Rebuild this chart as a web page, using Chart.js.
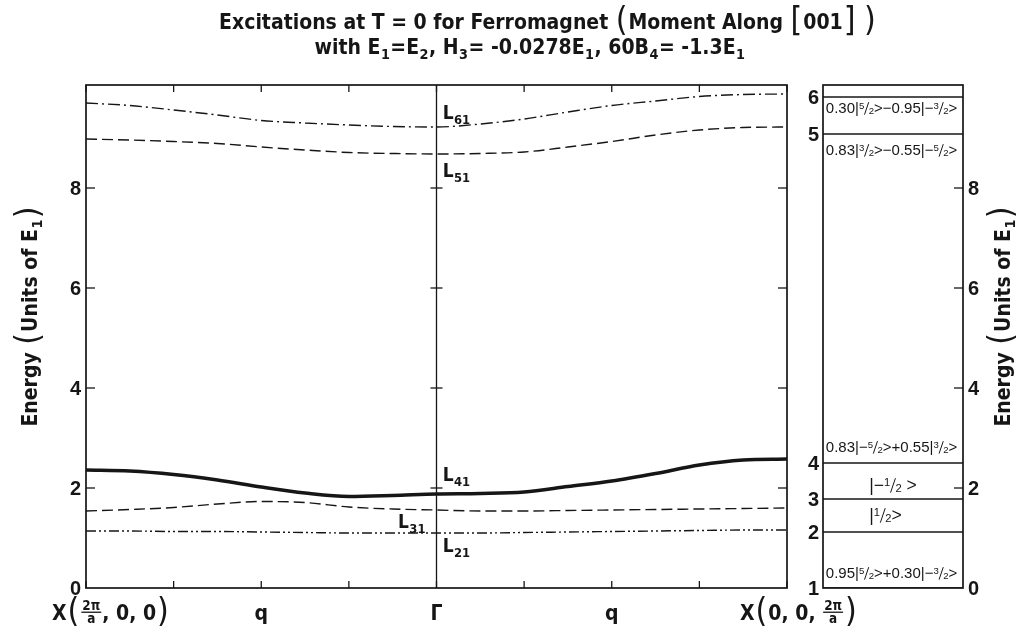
<!DOCTYPE html>
<html>
<head>
<meta charset="utf-8">
<script src="https://cdn.jsdelivr.net/npm/chart.js@4.4.1/dist/chart.umd.min.js"></script>
<style>
  body { margin: 0; background: #fff; }
  #wrap { position: relative; width: 1020px; height: 634px; }
  canvas { position: absolute; left: 0; top: 0; }
</style>
</head>
<body>
<div id="wrap">
  <canvas id="main" width="1020" height="634"></canvas>
  <canvas id="levels" width="1020" height="634"></canvas>
</div>
<script>
// wave-vector positions along X -> Γ -> X (Γ at 4)
const qPos = [0, 0.5, 1, 1.5, 2, 2.5, 3, 3.5, 4, 4.5, 5, 5.5, 6, 6.5, 7, 7.5, 8];
const xTicks = [0, 1, 2, 3, 4, 5, 6, 7, 8];
const yTicks = [0, 2, 4, 6, 8];
const yMax = 10.06;

// excitation branches (units of E1)
const L61 = [9.70, 9.65, 9.56, 9.46, 9.35, 9.30, 9.26, 9.23, 9.22, 9.28, 9.38, 9.52, 9.65, 9.74, 9.83, 9.87, 9.88];
const L51 = [8.98, 8.96, 8.93, 8.89, 8.82, 8.76, 8.71, 8.69, 8.68, 8.69, 8.72, 8.82, 8.93, 9.06, 9.16, 9.21, 9.22];
const L41 = [2.36, 2.34, 2.27, 2.16, 2.02, 1.90, 1.83, 1.85, 1.88, 1.89, 1.92, 2.03, 2.14, 2.29, 2.46, 2.56, 2.58];
const L31 = [1.54, 1.57, 1.61, 1.68, 1.73, 1.71, 1.62, 1.58, 1.56, 1.54, 1.54, 1.55, 1.56, 1.57, 1.58, 1.59, 1.60];
const L21 = [1.14, 1.14, 1.13, 1.13, 1.12, 1.11, 1.10, 1.10, 1.10, 1.10, 1.11, 1.12, 1.13, 1.14, 1.15, 1.16, 1.16];

// single-ion levels (right panel)
const levelNames = ['1', '2', '3', '4', '5', '6'];
const levelEnergies = [0, 1.12, 1.78, 2.5, 9.08, 9.82];

const INK = '#161616';
const NARROW = '"Liberation Sans Narrow", "DejaVu Sans Condensed", "Liberation Sans", sans-serif';
const PLAIN = '"Liberation Sans", Arial, sans-serif';

// rich text helpers (sub/superscripts, big brackets, fractions)
const sub = t => ({ k: 'sub', t });
const big = t => ({ k: 'big', t });
const sf = t => ({ k: 'sf', t });
const vf = t => ({ k: 'vf', t });

function fnt(o, scale, weight) {
  return `${weight || o.weight} ${Math.round(o.size * scale * 10) / 10}px ${o.family}`;
}

function segWidth(ctx, s, o) {
  if (typeof s === 'string') { ctx.font = fnt(o, 1); return ctx.measureText(s).width; }
  if (s.k === 'sub' || s.k === 'sup') { ctx.font = fnt(o, 0.68); return ctx.measureText(s.t).width + 1; }
  if (s.k === 'big') { ctx.font = fnt(o, 1.6, 'normal'); return ctx.measureText(s.t).width + 2; }
  const [n, d] = s.t.split('/');
  ctx.font = fnt(o, 0.64);
  const wn = ctx.measureText(n).width, wd = ctx.measureText(d).width;
  if (s.k === 'sf') return wn + wd + o.size * 0.3;
  return Math.max(wn, wd) + 4;
}

function drawRich(ctx, segs, x, y, o, align) {
  const total = segs.reduce((w, s) => w + segWidth(ctx, s, o), 0);
  let cx = align === 'center' ? x - total / 2 : align === 'right' ? x - total : x;
  ctx.textAlign = 'left';
  ctx.textBaseline = 'alphabetic';
  ctx.strokeStyle = INK;
  for (const s of segs) {
    const w = segWidth(ctx, s, o);
    if (typeof s === 'string') ctx.fillText(s, cx, y);
    else if (s.k === 'sub') ctx.fillText(s.t, cx + 0.5, y + o.size * 0.25);
    else if (s.k === 'sup') ctx.fillText(s.t, cx + 0.5, y - o.size * 0.42);
    else if (s.k === 'big') ctx.fillText(s.t, cx + 1, y + o.size * 0.1);
    else {
      const [n, d] = s.t.split('/');
      const wn = ctx.measureText(n).width;
      if (s.k === 'sf') {
        ctx.fillText(n, cx, y - o.size * 0.3);
        ctx.fillText(d, cx + wn + o.size * 0.3, y + o.size * 0.05);
        ctx.beginPath();
        ctx.lineWidth = 1;
        ctx.moveTo(cx + wn + o.size * 0.3, y - o.size * 0.75);
        ctx.lineTo(cx + wn + o.size * 0.02, y + o.size * 0.08);
        ctx.stroke();
      } else {
        ctx.textAlign = 'center';
        ctx.fillText(n, cx + w / 2, y - o.size * 0.46);
        ctx.fillText(d, cx + w / 2, y + o.size * 0.16);
        ctx.textAlign = 'left';
        ctx.beginPath();
        ctx.lineWidth = 1.3;
        ctx.moveTo(cx + 1, y - o.size * 0.37);
        ctx.lineTo(cx + w - 1, y - o.size * 0.37);
        ctx.stroke();
      }
    }
    cx += w;
  }
}

function seg(ctx, x1, y1, x2, y2) {
  ctx.beginPath(); ctx.moveTo(x1, y1); ctx.lineTo(x2, y2); ctx.stroke();
}

const titleFont = { size: 21, weight: 'bold', family: NARROW };
const axisFont = { size: 21, weight: 'bold', family: NARROW };
const numFont = { size: 20, weight: 'bold', family: PLAIN };
const lblFont = { size: 19, weight: 'bold', family: NARROW };
const stateFont = { size: 15, weight: 'normal', family: PLAIN };
const ketFont = { size: 17.5, weight: 'normal', family: PLAIN };

const title1 = ['Excitations at T = 0 for Ferromagnet ', big('('), 'Moment Along ', big('['), '001', big(']'), ' ', big(')')];
const title2 = ['with E', sub('1'), '=E', sub('2'), ', H', sub('3'), '= -0.0278E', sub('1'), ', 60B', sub('4'), '= -1.3E', sub('1')];
const energyLabel = ['Energy ', big('('), 'Units of E', sub('1'), big(')')];

// branch labels: [subscript, q, energy] anchors
const curveLabels = [['61', 4.07, 9.52], ['51', 4.07, 8.36], ['41', 4.07, 2.28], ['31', 3.56, 1.34], ['21', 4.07, 0.86]];

const stateLabels = [
  { e: 9.60, at: 0.02, font: stateFont, segs: ['0.30|', sf('5/2'), '>\u22120.95|\u2212', sf('3/2'), '>'] },
  { e: 8.76, at: 0.02, font: stateFont, segs: ['0.83|', sf('3/2'), '>\u22120.55|\u2212', sf('5/2'), '>'] },
  { e: 2.82, at: 0.02, font: stateFont, segs: ['0.83|\u2212', sf('5/2'), '>+0.55|', sf('3/2'), '>'] },
  { e: 2.06, at: 0.33, font: ketFont, segs: ['|\u2212', sf('1/2'), ' >'] },
  { e: 1.46, at: 0.33, font: ketFont, segs: ['|', sf('1/2'), '>'] },
  { e: 0.30, at: 0.02, font: stateFont, segs: ['0.95|', sf('5/2'), '>+0.30|\u2212', sf('3/2'), '>'] },
];

const branchStyles = [
  { data: L61, dash: [12, 4, 2, 4], width: 1.4 },
  { data: L51, dash: [11, 5], width: 1.4 },
  { data: L41, dash: [], width: 3.6 },
  { data: L31, dash: [11, 5], width: 1.4 },
  { data: L21, dash: [10, 3, 2, 3, 2, 3], width: 1.4 },
];

const mainDecor = {
  id: 'mainDecor',
  afterDraw(chart) {
    const { ctx, chartArea: a, scales: { x, y } } = chart;
    ctx.save();
    ctx.strokeStyle = INK;
    ctx.fillStyle = INK;
    ctx.lineWidth = 1.7;
    ctx.strokeRect(a.left, a.top, a.right - a.left, a.bottom - a.top);

    const gx = x.getPixelForValue(4);
    ctx.lineWidth = 1.3;
    seg(ctx, gx, a.top, gx, a.bottom);
    xTicks.forEach(v => {
      const px = x.getPixelForValue(v);
      seg(ctx, px, a.bottom, px, a.bottom - 7);
      seg(ctx, px, a.top, px, a.top + 7);
    });
    yTicks.forEach(v => {
      if (v === 0) return;
      const py = y.getPixelForValue(v);
      seg(ctx, a.left, py, a.left + 9, py);
      seg(ctx, a.right, py, a.right - 9, py);
      seg(ctx, gx - 6, py, gx + 6, py);
    });

    ctx.font = fnt(numFont, 1);
    ctx.textAlign = 'right';
    ctx.textBaseline = 'middle';
    yTicks.forEach(v => ctx.fillText(String(v), a.left - 5, y.getPixelForValue(v) + 1));

    // q-axis labels
    const base = a.bottom + 32;
    drawRich(ctx, ['X', big('('), vf('2\u03c0/a'), ', 0, 0', big(')')], x.getPixelForValue(0) - 34, base, axisFont, 'left');
    drawRich(ctx, ['q'], x.getPixelForValue(2), base, axisFont, 'center');
    drawRich(ctx, ['\u0393'], x.getPixelForValue(4), base, axisFont, 'center');
    drawRich(ctx, ['q'], x.getPixelForValue(6), base, axisFont, 'center');
    drawRich(ctx, ['X', big('('), '0, 0, ', vf('2\u03c0/a'), big(')')], x.getPixelForValue(8) - 47, base, axisFont, 'left');

    // energy label, both sides
    [30, 1003].forEach(cx => {
      ctx.save();
      ctx.translate(cx + 7, 316);
      ctx.rotate(-Math.PI / 2);
      drawRich(ctx, energyLabel, 0, 0, axisFont, 'center');
      ctx.restore();
    });

    // title
    drawRich(ctx, title1, 548, 29, titleFont, 'center');
    drawRich(ctx, title2, 530, 54, titleFont, 'center');

    // branch labels
    curveLabels.forEach(([s, q, e]) => {
      drawRich(ctx, ['L', sub(s)], x.getPixelForValue(q), y.getPixelForValue(e) + 7, lblFont, 'left');
    });
    ctx.restore();
  }
};

const levelDecor = {
  id: 'levelDecor',
  afterDraw(chart) {
    const { ctx, chartArea: a, scales: { x, y } } = chart;
    ctx.save();
    ctx.strokeStyle = INK;
    ctx.fillStyle = INK;
    ctx.lineWidth = 1.7;
    ctx.strokeRect(a.left, a.top, a.right - a.left, a.bottom - a.top);
    ctx.lineWidth = 1.3;
    yTicks.forEach(v => {
      if (v === 0) return;
      const py = y.getPixelForValue(v);
      seg(ctx, a.right, py, a.right - 9, py);
    });
    ctx.font = fnt(numFont, 1);
    ctx.textBaseline = 'middle';
    ctx.textAlign = 'left';
    yTicks.forEach(v => ctx.fillText(String(v), a.right + 5, y.getPixelForValue(v) + 1));
    ctx.textAlign = 'right';
    levelEnergies.forEach((e, i) => ctx.fillText(levelNames[i], a.left - 4, y.getPixelForValue(e) + 1));

    stateLabels.forEach(l => {
      drawRich(ctx, l.segs, x.getPixelForValue(l.at), y.getPixelForValue(l.e) + l.font.size * 0.36, l.font, 'left');
    });
    ctx.restore();
  }
};

const hiddenScales = {
  x: { type: 'linear', display: false },
  y: { type: 'linear', min: 0, max: yMax, display: false },
};

new Chart(document.getElementById('main'), {
  type: 'line',
  data: {
    datasets: branchStyles.map(b => ({
      data: qPos.map((q, i) => ({ x: q, y: b.data[i] })),
      borderColor: INK,
      borderWidth: b.width,
      borderDash: b.dash,
      pointRadius: 0,
      fill: false,
      cubicInterpolationMode: 'monotone',
    })),
  },
  options: {
    responsive: false,
    devicePixelRatio: 1,
    animation: false,
    layout: { padding: { left: 86, right: 233, top: 85, bottom: 46 } },
    scales: { x: { ...hiddenScales.x, min: 0, max: 8 }, y: hiddenScales.y },
    plugins: { legend: { display: false }, tooltip: { enabled: false } },
  },
  plugins: [mainDecor],
});

new Chart(document.getElementById('levels'), {
  type: 'line',
  data: {
    datasets: levelEnergies.map(e => ({
      data: [{ x: 0, y: e }, { x: 1, y: e }],
      borderColor: INK,
      borderWidth: 1.5,
      pointRadius: 0,
      fill: false,
    })),
  },
  options: {
    responsive: false,
    devicePixelRatio: 1,
    animation: false,
    layout: { padding: { left: 823, right: 57, top: 85, bottom: 46 } },
    scales: { x: { ...hiddenScales.x, min: 0, max: 1 }, y: hiddenScales.y },
    plugins: { legend: { display: false }, tooltip: { enabled: false } },
  },
  plugins: [levelDecor],
});
</script>
</body>
</html>
